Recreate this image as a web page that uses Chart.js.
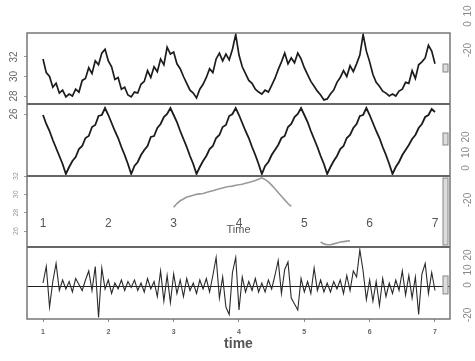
<!DOCTYPE html>
<html>
<head>
<meta charset="utf-8">
<script src="https://cdn.jsdelivr.net/npm/chart.js@4.4.1/dist/chart.umd.min.js"></script>
<style>
  body { margin: 0; background: #fff; }
  #wrap { position: relative; width: 475px; height: 361px; }
  #wrap canvas { position: absolute; left: 0; top: 0; }
</style>
</head>
<body>
<div id="wrap">
  <canvas id="stl" width="475" height="361"></canvas>
  <canvas id="inner" width="475" height="361"></canvas>
  <canvas id="side" width="475" height="361"></canvas>
</div>
<script>
// time index (years 1..7, 20 obs per unit)
const time = [
  1.00,1.05,1.10,1.15,1.20,1.25,1.30,1.35,1.40,1.45,1.50,1.55,1.60,1.65,1.70,1.75,1.80,1.85,1.90,1.95,
  2.00,2.05,2.10,2.15,2.20,2.25,2.30,2.35,2.40,2.45,2.50,2.55,2.60,2.65,2.70,2.75,2.80,2.85,2.90,2.95,
  3.00,3.05,3.10,3.15,3.20,3.25,3.30,3.35,3.40,3.45,3.50,3.55,3.60,3.65,3.70,3.75,3.80,3.85,3.90,3.95,
  4.00,4.05,4.10,4.15,4.20,4.25,4.30,4.35,4.40,4.45,4.50,4.55,4.60,4.65,4.70,4.75,4.80,4.85,4.90,4.95,
  5.00,5.05,5.10,5.15,5.20,5.25,5.30,5.35,5.40,5.45,5.50,5.55,5.60,5.65,5.70,5.75,5.80,5.85,5.90,5.95,
  6.00,6.05,6.10,6.15,6.20,6.25,6.30,6.35,6.40,6.45,6.50,6.55,6.60,6.65,6.70,6.75,6.80,6.85,6.90,6.95,
  7.00
];

// panel 1: observed series
const rawData = [
  31.8,30.4,30.0,28.9,29.3,28.3,28.6,27.9,28.2,28.0,28.7,28.4,29.6,29.8,30.9,30.3,31.6,31.2,32.4,32.8,
  31.6,31.0,29.7,29.9,28.7,28.9,28.1,27.9,28.4,28.3,29.2,29.5,30.6,29.9,31.0,30.5,31.8,31.2,33.0,32.3,
  32.5,31.3,30.8,30.0,29.3,28.6,28.3,27.8,28.7,29.2,29.9,30.8,30.4,31.8,32.4,31.6,32.3,31.7,32.8,34.3,
  32.2,31.0,30.3,29.6,29.3,28.7,28.4,28.2,28.6,28.4,29.1,29.8,30.7,31.5,32.4,31.3,31.9,31.4,32.4,31.8,
  30.9,30.2,29.5,29.0,28.5,28.1,27.6,27.7,28.2,28.6,29.4,29.9,30.6,30.0,31.1,30.5,31.3,32.2,34.3,32.6,
  31.5,30.2,29.4,29.0,28.5,28.3,28.0,28.2,28.0,28.5,28.7,29.4,29.3,30.6,29.8,31.2,31.5,31.9,33.2,32.6,
  31.3
];

// panel 2: seasonal
const seasonal = [
  25.9,25.0,24.3,23.4,22.6,21.8,21.0,20.0,20.7,21.3,21.7,22.5,22.8,23.6,23.8,24.7,24.9,25.8,25.9,26.6,
  25.9,25.1,24.3,23.6,22.7,21.9,21.0,20.0,20.8,21.2,21.9,22.4,22.8,23.7,23.8,24.6,25.0,25.7,26.0,26.6,
  25.9,25.2,24.3,23.5,22.7,21.8,21.0,20.0,20.7,21.3,21.8,22.5,22.8,23.6,23.9,24.7,24.9,25.8,26.0,26.6,
  25.9,25.1,24.3,23.6,22.7,21.9,21.0,20.0,20.8,21.2,21.9,22.4,22.9,23.6,23.8,24.7,25.0,25.7,26.0,26.6,
  25.9,25.2,24.3,23.5,22.7,21.8,21.0,20.0,20.7,21.3,21.8,22.5,22.8,23.6,23.9,24.6,25.0,25.8,25.9,26.6,
  25.9,25.1,24.3,23.6,22.7,21.9,21.0,20.0,20.7,21.2,21.9,22.4,22.9,23.5,23.9,24.6,25.0,25.7,25.9,26.5,
  26.2
];

// panel 3: trend (only partly visible)
const trend = [
  null,null,null,null,null,null,null,null,null,null,null,null,null,null,null,null,null,null,null,null,
  null,null,null,null,null,null,null,null,null,null,null,null,null,null,null,null,null,null,null,null,
  28.6,29.0,29.3,29.5,29.7,29.8,29.9,30.0,30.05,30.1,30.2,30.3,30.4,30.5,30.6,30.7,30.8,30.85,30.9,31.0,
  31.05,31.1,31.2,31.3,31.4,31.5,31.65,31.8,31.6,31.35,31.0,30.6,30.2,29.8,29.4,29.0,28.7,null,null,null,
  null,null,null,null,null,24.8,24.6,24.5,24.5,24.6,24.7,24.8,24.85,24.9,24.95,null,null,null,null,null,
  null,null,null,null,null,null,null,null,null,null,null,null,null,null,null,null,null,null,null,null,
  null
];

// panel 4: remainder
const remainder = [
  2,13,-14,3,15,-3,4,-2,3,-4,5,1,-3,4,10,-3,13,-21,12,-2,
  4,-5,2,-2,4,-3,3,-1,4,-3,2,-4,5,-2,3,-7,10,-10,7,-11,
  8,-5,4,-7,5,-3,2,-5,4,-2,5,-4,7,19,-8,6,-14,-19,9,19,
  -16,6,-4,3,-3,5,-4,2,-4,4,-2,7,17,-5,11,16,-8,-12,-16,5,
  -4,3,-5,12,-3,4,-4,2,-4,3,-2,4,-5,7,-3,10,6,24,10,-9,
  4,-10,3,-13,5,-7,2,-5,4,-3,10,-6,7,-8,6,-19,8,15,-5,9,
  -3
];

const xTicks = [1, 2, 3, 4, 5, 6, 7];
const rawTicks = [28, 30, 32];
const seasonalTicks = [26];
const trendTicks = [26, 28, 30, 32];
const remainderTicks = [0];
const sideTicks1 = [-20, 0, 10];
const sideTicks2 = [0, 10, 20];
const sideTicks3 = [-20];
const sideTicks4 = [-20, 0, 10, 20];

// grey range bars at the right edge of each panel (data units)
const rangeBars = [
  { axis: 'y1', lo: 30.46, hi: 31.28 },
  { axis: 'y2', lo: 22.9, hi: 24.1 },
  { axis: 'y3', lo: 24.48, hi: 31.78 },
  { axis: 'y4', lo: -5.3, hi: 6.7 }
];

const xMin = 0.755, xMax = 7.23;

Chart.defaults.font.family = "'Liberation Sans', Arial, sans-serif";
Chart.defaults.animation = false;
Chart.defaults.events = [];
Chart.defaults.plugins.legend.display = false;
Chart.defaults.plugins.tooltip.enabled = false;

const pts = vals => time.map((t, i) => ({ x: t, y: vals[i] }));

function leftAxis(weight, stackWeight, min, max, ticks, size, color) {
  return {
    type: 'linear', position: 'left', stack: 'panels', stackWeight: stackWeight, weight: weight,
    min: min, max: max,
    border: { display: false },
    grid: { drawOnChartArea: false, tickLength: 3, color: '#999' },
    afterBuildTicks: s => { s.ticks = ticks.map(v => ({ value: v })); },
    afterFit: s => { s.width = 27; s.paddingTop = 0; s.paddingBottom = 0; },
    ticks: {
      minRotation: 90, maxRotation: 90, crossAlign: 'center', padding: 4, autoSkip: false,
      font: { size: size }, color: color, callback: v => String(v)
    }
  };
}

function sideAxis(weight, stackWeight, min, max, ticks) {
  return {
    type: 'linear', position: 'right', stack: 'side', stackWeight: stackWeight, weight: weight,
    min: min, max: max,
    border: { display: false },
    grid: { display: false },
    afterBuildTicks: s => { s.ticks = ticks.map(v => ({ value: v })); },
    afterFit: s => { s.width = 25; s.paddingTop = 0; s.paddingBottom = 0; },
    ticks: {
      minRotation: 90, maxRotation: 90, crossAlign: 'center', padding: 3, autoSkip: false,
      font: { size: 10 }, color: '#888', callback: v => String(v)
    }
  };
}

// frame + panel separators + range bars
const framePlugin = {
  id: 'frame',
  afterDatasetsDraw(chart) {
    const { ctx, chartArea: a, scales } = chart;
    ctx.save();
    rangeBars.forEach(b => {
      const s = scales[b.axis];
      const top = s.getPixelForValue(b.hi);
      const bot = s.getPixelForValue(b.lo);
      ctx.fillStyle = '#dcdcdc';
      ctx.strokeStyle = '#888';
      ctx.lineWidth = 1;
      ctx.fillRect(a.right - 7, top, 5, bot - top);
      ctx.strokeRect(a.right - 7, top, 5, bot - top);
    });
    ctx.strokeStyle = '#777';
    ctx.lineWidth = 1.5;
    ctx.strokeRect(a.left, a.top, a.right - a.left, a.bottom - a.top);
    ctx.strokeStyle = '#666';
    ctx.lineWidth = 2;
    ['y1', 'y2', 'y3'].forEach(id => {
      const y = scales[id].bottom;
      ctx.beginPath();
      ctx.moveTo(a.left, y);
      ctx.lineTo(a.right, y);
      ctx.stroke();
    });
    ctx.restore();
  }
};

new Chart(document.getElementById('stl'), {
  type: 'line',
  data: {
    datasets: [
      { label: 'data', data: pts(rawData), yAxisID: 'y1', borderColor: '#1c1c1c', borderWidth: 1.7, pointRadius: 0 },
      { label: 'seasonal', data: pts(seasonal), yAxisID: 'y2', borderColor: '#1c1c1c', borderWidth: 1.8, pointRadius: 0 },
      { label: 'trend', data: pts(trend), yAxisID: 'y3', borderColor: '#9a9a9a', borderWidth: 1.6, pointRadius: 0 },
      { label: 'remainder', data: pts(remainder), yAxisID: 'y4', borderColor: '#2a2a2a', borderWidth: 1.1, pointRadius: 0 }
    ]
  },
  options: {
    responsive: false,
    layout: { padding: { left: 0, right: 25, top: 33, bottom: 0 } },
    scales: {
      x: {
        type: 'linear', position: 'bottom', min: xMin, max: xMax,
        border: { display: false },
        grid: { drawOnChartArea: false, tickLength: 3, color: '#888' },
        afterBuildTicks: s => { s.ticks = xTicks.map(v => ({ value: v })); },
        afterFit: s => { s.height = 42; s.paddingLeft = 0; s.paddingRight = 0; },
        ticks: { padding: 6, autoSkip: false, maxRotation: 0, font: { size: 7, weight: 'bold' }, color: '#666', callback: v => String(v) },
        title: { display: true, text: 'time', font: { size: 14, weight: 'bold' }, color: '#555', padding: { top: 0, bottom: 8 } }
      },
      y1: leftAxis(4, 71, 27.18, 34.46, rawTicks, 10, '#666'),
      y2: leftAxis(3, 72, 19.8, 27.0, seasonalTicks, 10, '#666'),
      y3: leftAxis(2, 71, 24.26, 32.0, trendTicks, 7, '#999'),
      y4: {
        type: 'linear', position: 'left', stack: 'panels', stackWeight: 72, weight: 1,
        min: -22, max: 26,
        border: { display: false },
        grid: { drawTicks: false, color: '#222', lineWidth: 1 },
        afterBuildTicks: s => { s.ticks = remainderTicks.map(v => ({ value: v })); },
        afterFit: s => { s.width = 27; s.paddingTop = 0; s.paddingBottom = 0; },
        ticks: { display: false }
      }
    }
  },
  plugins: [framePlugin]
});

// the stray "1 ... 7 / Time" axis sitting inside the trend panel
new Chart(document.getElementById('inner'), {
  type: 'line',
  data: { datasets: [] },
  options: {
    responsive: false,
    layout: { padding: { left: 27, right: 25, top: 0, bottom: 123 } },
    scales: {
      x: {
        type: 'linear', min: xMin, max: xMax,
        border: { display: false },
        grid: { display: false },
        afterBuildTicks: s => { s.ticks = xTicks.map(v => ({ value: v })); },
        afterFit: s => { s.height = 33; s.paddingLeft = 0; s.paddingRight = 0; },
        ticks: { padding: 3, autoSkip: false, maxRotation: 0, font: { size: 12 }, color: '#555', callback: v => String(v) },
        title: { display: true, text: 'Time', font: { size: 11 }, color: '#555', padding: { top: 0, bottom: 1 } }
      },
      y: { display: false, min: 0, max: 1 }
    }
  }
});

// right-hand scale labels
new Chart(document.getElementById('side'), {
  type: 'line',
  data: { datasets: [] },
  options: {
    responsive: false,
    layout: { padding: 0 },
    scales: {
      x: { type: 'linear', display: false, min: 0, max: 1 },
      r1: sideAxis(1, 104, -61.5, 18.5, sideTicks1),
      r2: sideAxis(2, 72, -5.2, 41.3, sideTicks2),
      r3: sideAxis(3, 71, -56.2, -1.5, sideTicks3),
      r4: sideAxis(4, 114, -50.7, 25.3, sideTicks4)
    }
  }
});
</script>
</body>
</html>
